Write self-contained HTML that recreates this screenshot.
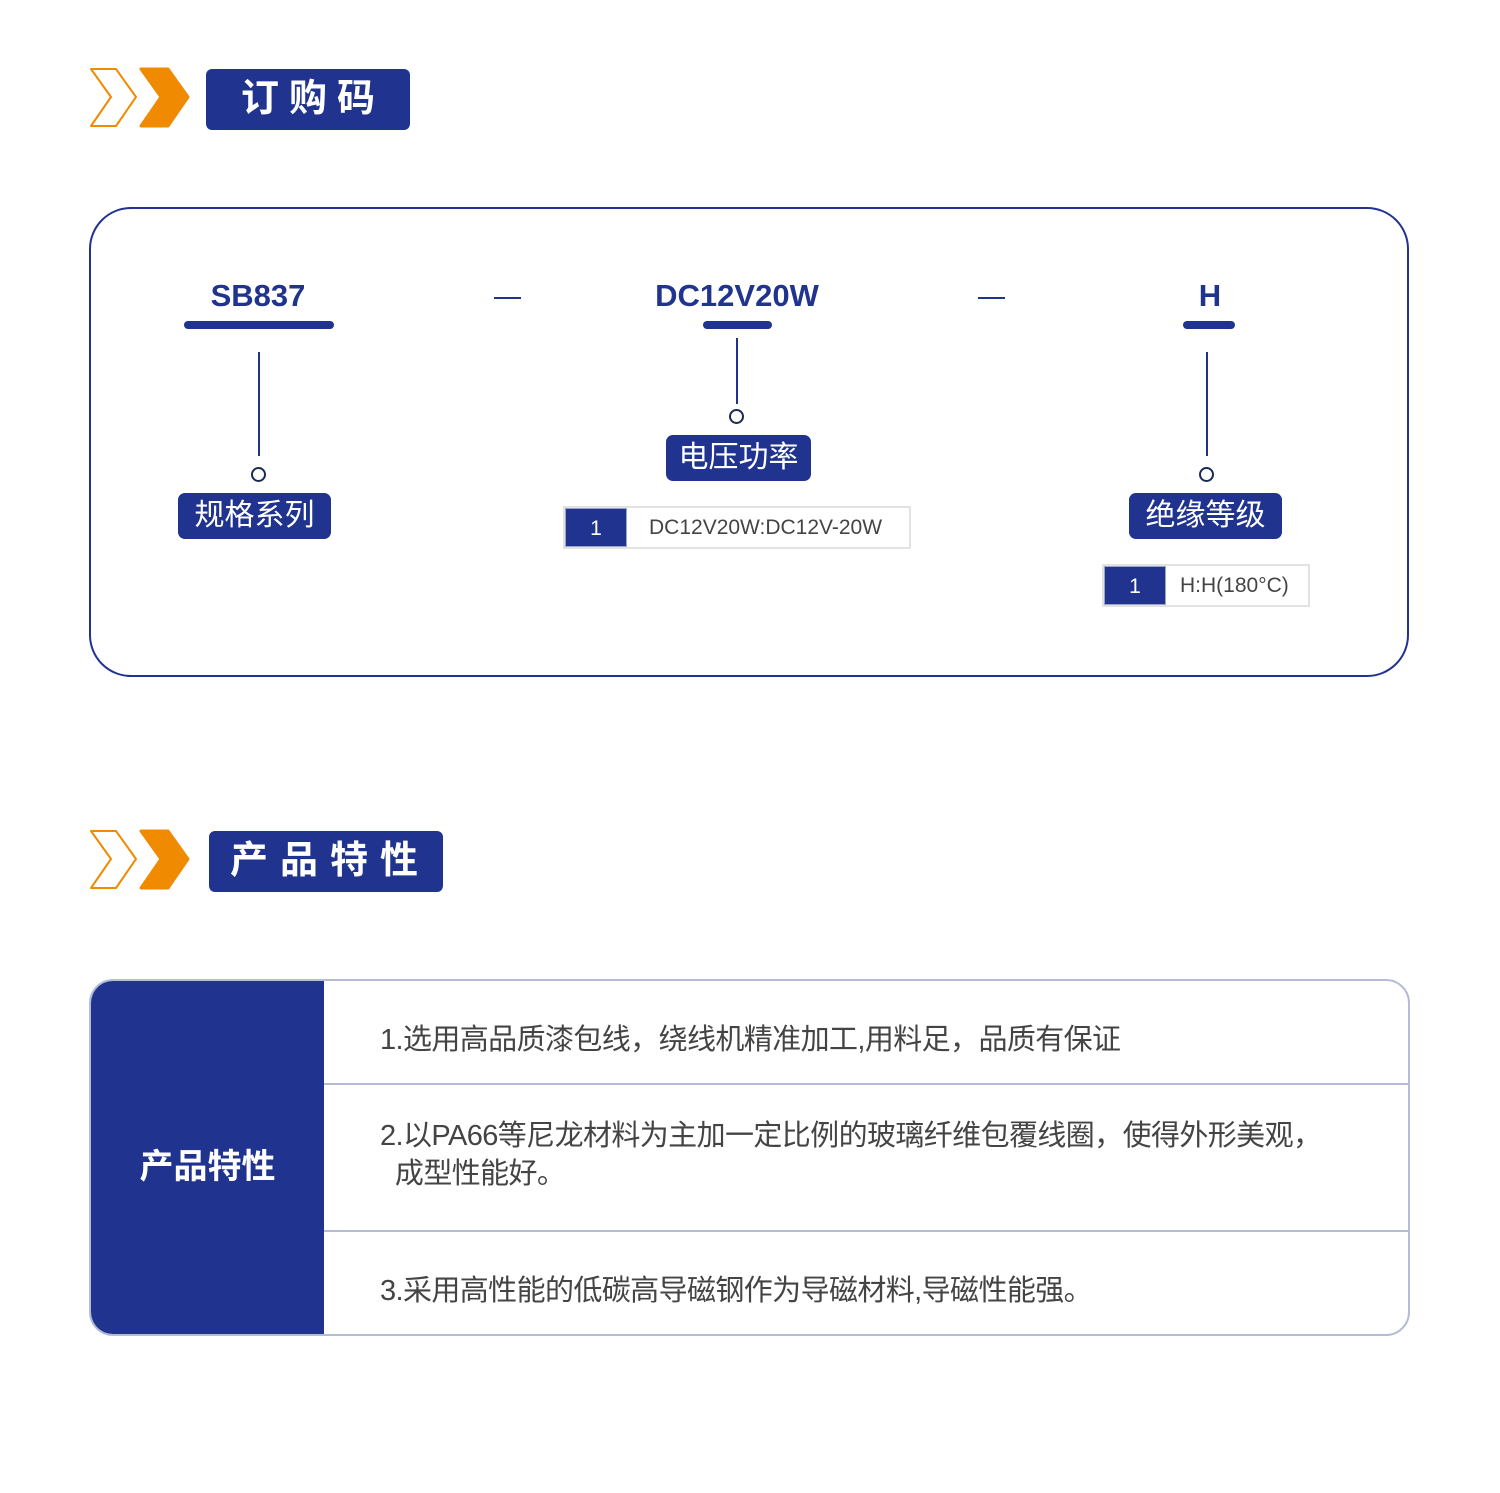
<!DOCTYPE html>
<html><head><meta charset="utf-8"><style>
*{margin:0;padding:0;box-sizing:border-box}
body{width:1500px;height:1493px;background:#fff;position:relative;overflow:hidden;font-family:"Liberation Sans","Noto Sans CJK SC",sans-serif}
.a{position:absolute}
.blue{background:#1f338f}
.t{color:#fff;font-weight:bold;text-align:center}
.code{color:#1f338f;font-weight:bold;font-size:31px;text-align:center}
.bar{background:#1f338f;border-radius:4px;height:8px}
.vl{width:2px;background:#1f338f}
.dot{width:15px;height:15px;border:2px solid #1a2a55;border-radius:50%;background:#fff}
.lab{background:#1f338f;color:#fff;font-size:30px;text-align:center;border-radius:7px;height:46px;line-height:45px}
.opt{border:2px solid #e2e2e2;height:43px;display:flex;font-size:21px;color:#444}
.opt .n{background:#1f338f;color:#fff;width:62px;text-align:center;line-height:39px;border:1px solid #9aa3c8}
.opt .v{flex:1;line-height:39px;padding-left:22px}
.row{font-size:29px;color:#444;left:380px;letter-spacing:-0.6px}
</style></head><body>

<svg class="a" style="left:86px;top:66px" width="105" height="66">
<path d="M5 3 H30 L50 31 L30 60 H5 L25 31 Z" fill="none" stroke="#f08a00" stroke-width="2" stroke-linejoin="round"/>
<path d="M55 3 H82 L102 31 L82 60 H55 L75 31 Z" fill="#f08a00" stroke="#f08a00" stroke-linejoin="round" stroke-width="3"/>
</svg>
<div class="a blue t" style="left:206px;top:69px;width:204px;height:61px;border-radius:6px;font-size:38px;line-height:60px;letter-spacing:10px;padding-left:10px">订购码</div>

<div class="a" style="left:89px;top:207px;width:1320px;height:470px;border:2px solid #1f338f;border-radius:42px"></div>

<div class="a code" style="left:158px;top:278px;width:200px">SB837</div>
<div class="a bar" style="left:184px;top:321px;width:150px"></div>
<div class="a vl" style="left:258px;top:352px;height:104px"></div>
<div class="a dot" style="left:251px;top:467px"></div>
<div class="a lab" style="left:178px;top:493px;width:153px">规格系列</div>

<div class="a" style="left:494px;top:297px;width:27px;height:2px;background:#1f338f"></div>
<div class="a code" style="left:617px;top:278px;width:240px">DC12V20W</div>
<div class="a bar" style="left:703px;top:321px;width:69px"></div>
<div class="a vl" style="left:736px;top:338px;height:66px"></div>
<div class="a dot" style="left:729px;top:409px"></div>
<div class="a lab" style="left:666px;top:435px;width:145px">电压功率</div>
<div class="a opt" style="left:563px;top:506px;width:348px"><div class="n">1</div><div class="v">DC12V20W:DC12V-20W</div></div>

<div class="a" style="left:978px;top:297px;width:27px;height:2px;background:#1f338f"></div>
<div class="a code" style="left:1160px;top:278px;width:100px">H</div>
<div class="a bar" style="left:1183px;top:321px;width:52px"></div>
<div class="a vl" style="left:1206px;top:352px;height:104px"></div>
<div class="a dot" style="left:1199px;top:467px"></div>
<div class="a lab" style="left:1129px;top:493px;width:153px">绝缘等级</div>
<div class="a opt" style="left:1102px;top:564px;width:208px"><div class="n">1</div><div class="v" style="padding-left:14px">H:H(180°C)</div></div>

<svg class="a" style="left:86px;top:828px" width="105" height="66">
<path d="M5 3 H30 L50 31 L30 60 H5 L25 31 Z" fill="none" stroke="#f08a00" stroke-width="2" stroke-linejoin="round"/>
<path d="M55 3 H82 L102 31 L82 60 H55 L75 31 Z" fill="#f08a00" stroke="#f08a00" stroke-linejoin="round" stroke-width="3"/>
</svg>
<div class="a blue t" style="left:209px;top:831px;width:234px;height:61px;border-radius:6px;font-size:38px;line-height:60px;letter-spacing:12px;padding-left:8px">产品特性</div>

<div class="a" style="left:89px;top:979px;width:1321px;height:357px;border:2px solid #b5bcd6;border-radius:24px;overflow:hidden">
  <div class="a blue" style="left:0;top:0;width:233px;height:100%"></div>
  <div class="a t" style="left:0;top:158px;width:233px;font-size:34px">产品特性</div>
  <div class="a" style="left:233px;top:102px;right:0;height:2px;background:#b5bcd6"></div>
  <div class="a" style="left:233px;top:249px;right:0;height:2px;background:#b5bcd6"></div>
</div>
<div class="a row" style="top:1016px">1.选用高品质漆包线，绕线机精准加工,用料足，品质有保证</div>
<div class="a row" style="top:1117px;line-height:38px">2.以PA66等尼龙材料为主加一定比例的玻璃纤维包覆线圈，使得外形美观，<br>&nbsp;&nbsp;成型性能好。</div>
<div class="a row" style="top:1267px">3.采用高性能的低碳高导磁钢作为导磁材料,导磁性能强。</div>
</body></html>
